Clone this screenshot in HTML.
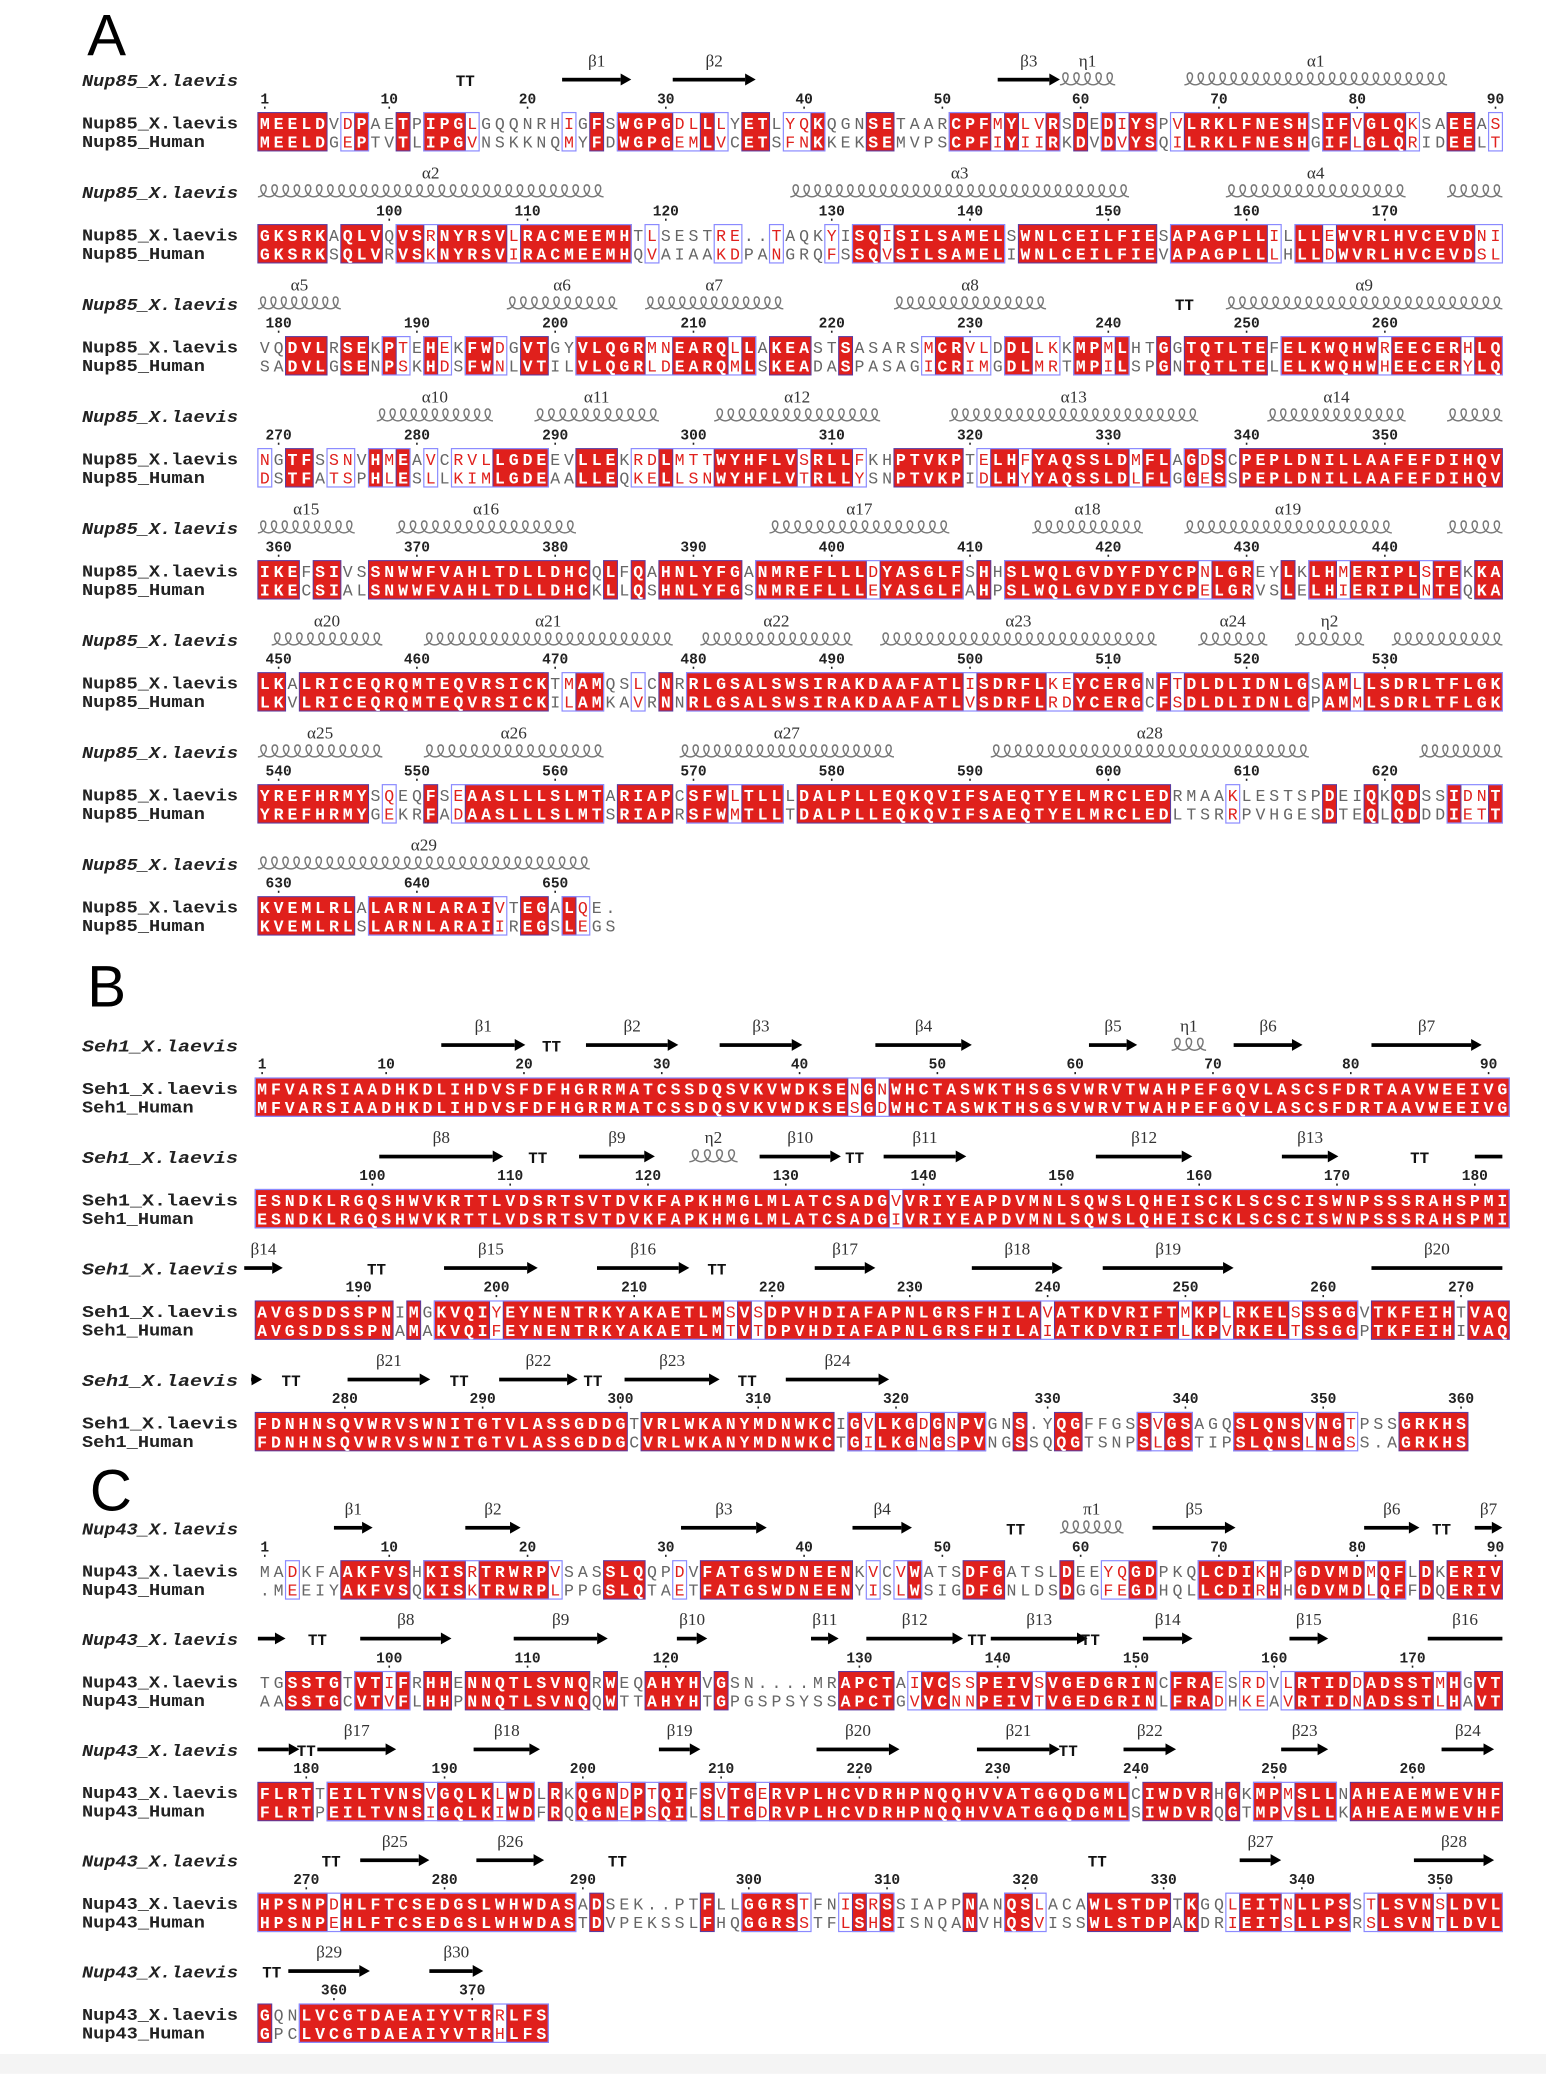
<!DOCTYPE html>
<html><head><meta charset="utf-8">
<style>
html,body{margin:0;padding:0;background:#fff;}
svg{display:block;}
</style></head>
<body>
<svg id="fig" xmlns="http://www.w3.org/2000/svg" width="1546" height="2074" viewBox="0 0 1169 1568">
<rect x="0" y="0" width="1169" height="1568" fill="#fff"/>
<rect x="0" y="1553" width="1169" height="15" fill="#f4f4f4"/>
<text x="66" y="42" font-family="Liberation Sans, sans-serif" font-size="44">A</text>
<text x="66" y="761" font-family="Liberation Sans, sans-serif" font-size="44">B</text>
<text x="68" y="1142" font-family="Liberation Sans, sans-serif" font-size="44">C</text>
</svg>
<script>
// ---------- data ----------
const rowsA_laevis = [
"MEELDVDPAETPIPGLGQQNRHIGFSWGPGDLLLYETLYQKQGNSETAARCPFMYLVRSDEDIYSPVLRKLFNESHSIFVGLQKSAEEAS",
"GKSRKAQLVQVSRNYRSVLRACMEEMHTLSESTRE..TAQKYISQISILSAMELSWNLCEILFIESAPAGPLLILLLEWVRLHVCEVDNI",
"VQDVLRSEKPTEHEKFWDGVTGYVLQGRMNEARQLLAKEASTSASARSMCRVLDDLLKKMPMLHTGGTQTLTEFELKWQHWREECERHLQ",
"NGTFSSNVHMEAVCRVLLGDEEVLLEKRDLMTTWYHFLVSRLLFKHPTVKPTELHFYAQSSLDMFLAGDSCPEPLDNILLAAFEFDIHQV",
"IKEFSIVSSNWWFVAHLTDLLDHCQLFQAHNLYFGANMREFLLLDYASGLFSHHSLWQLGVDYFDYCPNLGREYLKLHMERIPLSTEKKA",
"LKALRICEQRQMTEQVRSICKTMAMQSLCNRRLGSALSWSIRAKDAAFATLISDRFLKEYCERGNFTDLDLIDNLGSAMLLSDRLTFLGK",
"YREFHRMYSQEQFSEAASLLLSLMTARIAPCSFWLTLLLDALPLLEQKQVIFSAEQTYELMRCLEDRMAAKLESTSPDEIQKQDSSIDNT",
"KVEMLRLALARNLARAIVTEGALQE."];
const rowsA_human = [
"MEELDGEPTVTLIPGVNSKKNQMYFDWGPGEMLVCETSFNKKEKSEMVPSCPFIYIIRKDVDVYSQILRKLFNESHGIFLGLQRIDEELT",
"GKSRKSQLVRVSKNYRSVIRACMEEMHQVAIAAKDPANGRQFSSQVSILSAMELIWNLCEILFIEVAPAGPLLLHLLDWVRLHVCEVDSL",
"SADVLGSENPSKHDSFWNLVTILVLQGRLDEARQMLSKEADASPASAGICRIMGDLMRTMPILSPGNTQTLTELELKWQHWHEECERYLQ",
"DSTFATSPHLESLLKIMLGDEAALLEQKELLSNWYHFLVTRLLYSNPTVKPIDLHYYAQSSLDLFLGGESSPEPLDNILLAAFEFDIHQV",
"IKECSIALSNWWFVAHLTDLLDHCKLLQSHNLYFGSNMREFLLLEYASGLFAHPSLWQLGVDYFDYCPELGRVSLELHIERIPLNTEQKA",
"LKVLRICEQRQMTEQVRSICKILAMKAVRNNRLGSALSWSIRAKDAAFATLVSDRFLRDYCERGCFSDLDLIDNLGPAMMLSDRLTFLGK",
"YREFHRMYGEKRFADAASLLLSLMTSRIAPRSFWMTLLTDALPLLEQKQVIFSAEQTYELMRCLEDLTSRRPVHGESDTEQLQDDDIETT",
"KVEMLRLSLARNLARAIIREGSLEGS"];
const rowsB_laevis = [
"MFVARSIAADHKDLIHDVSFDFHGRRMATCSSDQSVKVWDKSENGNWHCTASWKTHSGSVWRVTWAHPEFGQVLASCSFDRTAAVWEEIVG",
"ESNDKLRGQSHWVKRTTLVDSRTSVTDVKFAPKHMGLMLATCSADGVVRIYEAPDVMNLSQWSLQHEISCKLSCSCISWNPSSSRAHSPMI",
"AVGSDDSSPNIMGKVQIYEYNENTRKYAKAETLMSVSDPVHDIAFAPNLGRSFHILAVATKDVRIFTMKPLRKELSSSGGVTKFEIHTVAQ",
"FDNHNSQVWRVSWNITGTVLASSGDDGTVRLWKANYMDNWKCIGVLKGDGNPVGNS.YQGFFGSSVGSAGQSLQNSVNGTPSSGRKHS"];
const rowsB_human = [
"MFVARSIAADHKDLIHDVSFDFHGRRMATCSSDQSVKVWDKSESGDWHCTASWKTHSGSVWRVTWAHPEFGQVLASCSFDRTAAVWEEIVG",
"ESNDKLRGQSHWVKRTTLVDSRTSVTDVKFAPKHMGLMLATCSADGIVRIYEAPDVMNLSQWSLQHEISCKLSCSCISWNPSSSRAHSPMI",
"AVGSDDSSPNAMAKVQIFEYNENTRKYAKAETLMTVTDPVHDIAFAPNLGRSFHILAIATKDVRIFTLKPVRKELTSSGGPTKFEIHIVAQ",
"FDNHNSQVWRVSWNITGTVLASSGDDGCVRLWKANYMDNWKCTGILKGNGSPVNGSSQQGTSNPSLGSTIPSLQNSLNGSS.AGRKHS"];
const rowsC_laevis = [
"MADKFAAKFVSHKISRTRWRPVSASSLQQPDVFATGSWDNEENKVCVWATSDFGATSLDEEYQGDPKQLCDIKHPGDVMDMQFLDKERIV",
"TGSSTGTVTIFRHHENNQTLSVNQRWEQAHYHVGSN....MRAPCTAIVCSSPEIVSVGEDGRINCFRAESRDVLRTIDDADSSTMHGVT",
"FLRTTEILTVNSVGQLKLWDLRKQGNDPTQIFSVTGERVPLHCVDRHPNQQHVVATGGQDGMLCIWDVRHGKMPMSLLNAHEAEMWEVHF",
"HPSNPDHLFTCSEDGSLWHWDASADSEK..PTFLLGGRSTFNISRSSIAPPNANQSLACAWLSTDPTKGQLEITNLLPSSTLSVNSLDVL",
"GQNLVCGTDAEAIYVTRRLFS"];
const rowsC_human = [
".MEEIYAKFVSQKISKTRWRPLPPGSLQTAETFATGSWDNEENYISLWSIGDFGNLDSDGGFEGDHQLLCDIRHHGDVMDLQFFDQERIV",
"AASSTGCVTVFLHHPNNQTLSVNQQWTTAHYHTGPGSPSYSSAPCTGVVCNNPEIVTVGEDGRINLFRADHKEAVRTIDNADSSTLHAVT",
"FLRTPEILTVNSIGQLKIWDFRQQGNEPSQILSLTGDRVPLHCVDRHPNQQHVVATGGQDGMLSIWDVRQGTMPVSLLKAHEAEMWEVHF",
"HPSNPEHLFTCSEDGSLWHWDASTDVPEKSSLFHQGGRSSTFLSHSISNQANVHQSVISSWLSTDPAKDRIEITSLLPSRSLSVNTLDVL",
"GPCLVCGTDAEAIYVTRHLFS"];
// secondary structure: [type, startCol, endCol, label]  a=helix, b=strand, t=turn, l=line(no head)
const ssA = [
[['t',15,15,''],['b',22,27,'β1'],['b',30,36,'β2'],['b',53.5,58,'β3'],['a',58,62,'η1'],['a',67,86,'α1']],
[['a',0,25,'α2'],['a',38.5,63,'α3'],['a',70,83,'α4'],['a',86,90,'']],
[['a',0,6,'α5'],['a',18,26,'α6'],['a',28,38,'α7'],['a',46,57,'α8'],['t',67,67,''],['a',70,90,'α9']],
[['a',8.6,17,'α10'],['a',20,29,'α11'],['a',33,45,'α12'],['a',50,68,'α13'],['a',73,83,'α14'],['a',86,90,'']],
[['a',0,7,'α15'],['a',10,23,'α16'],['a',37,50,'α17'],['a',56,64,'α18'],['a',67,82,'α19'],['a',86,90,'']],
[['a',1,9,'α20'],['a',12,30,'α21'],['a',32,43,'α22'],['a',45,65,'α23'],['a',68,73,'α24'],['a',75,80,'η2'],['a',82,90,'']],
[['a',0,9,'α25'],['a',12,25,'α26'],['a',30.5,46,'α27'],['a',53,76,'α28'],['a',84,90,'']],
[['a',0,24,'α29']]];
const ssB = [
[['b',13.5,19.6,'β1'],['t',21.5,21.5,''],['b',24,30.7,'β2'],['b',33.7,39.7,'β3'],['b',45,52,'β4'],['b',60.5,64,'β5'],['a',66.5,69,'η1'],['b',71,76,'β6'],['b',81,89,'β7']],
[['b',9,18,'β8'],['t',20.5,20.5,''],['b',23.5,29,'β9'],['a',31.5,35,'η2'],['b',36.6,42.5,'β10'],['t',43.5,43.5,''],['b',45.6,51.6,'β11'],['b',61,68,'β12'],['b',74.5,78.6,'β13'],['t',84.5,84.5,''],['l',88.5,90.5,'']],
[['b',-0.8,2,'β14'],['t',8.8,8.8,''],['b',13.7,20.5,'β15'],['b',24.8,31.5,'β16'],['t',33.5,33.5,''],['b',40.6,45,'β17'],['b',52,58.6,'β18'],['b',61.5,71,'β19'],['l',81,90.5,'β20']],
[['b',-0.3,0.5,''],['t',2.6,2.6,''],['b',6.7,12.7,'β21'],['t',14.8,14.8,''],['b',17.7,23.4,'β22'],['t',24.5,24.5,''],['b',26.8,33.7,'β23'],['t',35.7,35.7,''],['b',38.5,46,'β24']]];
const ssC = [
[['b',5.5,8.3,'β1'],['b',15,19,'β2'],['b',30.6,36.8,'β3'],['b',43,47.3,'β4'],['t',54.8,54.8,''],['a',58,62.6,'π1'],['b',64.7,70.7,'β5'],['b',80,84,'β6'],['t',85.6,85.6,''],['b',88,90,'β7']],
[['b',0,2,''],['t',4.3,4.3,''],['b',7.4,14,'β8'],['b',18.5,25.3,'β9'],['b',30.3,32.5,'β10'],['b',40,42,'β11'],['b',44,51,'β12'],['t',52,52,''],['b',53,60,'β13'],['t',60.2,60.2,''],['b',64,67.6,'β14'],['b',74.6,77.4,'β15'],['l',84.6,90,'β16']],
[['b',0,3,''],['t',3.5,3.5,''],['b',4.3,10,'β17'],['b',15.6,20.4,'β18'],['b',29,32,'β19'],['b',40.4,46.4,'β20'],['b',52,58,'β21'],['t',58.6,58.6,''],['b',62.6,66.4,'β22'],['b',74,77.4,'β23'],['b',85.6,89.4,'β24']],
[['t',5.3,5.3,''],['b',7.4,12.4,'β25'],['b',15.8,20.7,'β26'],['t',26,26,''],['t',60.7,60.7,''],['b',71,74,'β27'],['b',83.6,89.4,'β28']],
[['t',1,1,''],['b',2.2,8.1,'β29'],['b',12.4,16.3,'β30']]];
const simGroups = ['ILVM','DENQ','KRH','STN','FYWH'];

// ---------- rendering ----------
const NS = 'http://www.w3.org/2000/svg';
const svg = document.getElementById('fig');
const MONO = '"Liberation Mono", monospace';
function mk(tag, attrs, parent){
  const e = document.createElementNS(NS, tag);
  for (const k in attrs) e.setAttribute(k, attrs[k]);
  (parent||svg).appendChild(e);
  return e;
}
function isSim(a,b){
  if (a==='.'||b==='.') return false;
  return simGroups.some(g => g.includes(a) && g.includes(b));
}
function drawBlock(key, names, ssName, L, H, SS, y0, dy, x0, cw){
  let count = 0;
  for (let r=0; r<L.length; r++){
    const y1 = y0 + r*dy, y2 = y1 + 14;
    const g = mk('g', {});
    
    
    const colX = c => x0 + c*cw;
    const t0 = mk('text', {x:62, y:y1-28, 'font-family':MONO, 'font-size':12.5, 'font-weight':'bold', 'font-style':'italic', fill:'#222', textLength:118, lengthAdjust:'spacingAndGlyphs'}, g);
    t0.textContent = ssName;
    
    
    const t1 = mk('text', {x:62, y:y1+4, 'font-family':MONO, 'font-size':12.5, 'font-weight':'bold', fill:'#222', textLength:118, lengthAdjust:'spacingAndGlyphs'}, g);
    t1.textContent = names[0];
    
    
    const t2 = mk('text', {x:62, y:y2+4, 'font-family':MONO, 'font-size':12.5, 'font-weight':'bold', fill:'#222', textLength:names[1].length*8.45, lengthAdjust:'spacingAndGlyphs'}, g);
    t2.textContent = names[1];
    
    
    const a = L[r], b = H[r], n = Math.max(a.length, b.length);
    const cls = [];
    for (let c=0;c<n;c++){
      const ca=a[c]||'.', cb=b[c]||'.';
      cls.push(ca===cb && ca!=='.' ? 'id' : (isSim(ca,cb)?'sim':'no'));
    }
    const top = y1-8, bot = y2+7;
    for (let c=0;c<n;){
      if (cls[c]!=='id'){c++;continue;}
      let e=c; while(e<n && cls[e]==='id') e++;
      const rr = mk('rect', {x:colX(c), y:top, width:(e-c)*cw, height:bot-top, fill:'#e0201c', stroke:'#5a3aa0', 'stroke-width':0.8}, g);
      
      
      c=e;
    }
    for (let c=0;c<n;){
      if (cls[c]==='no'){c++;continue;}
      let e=c; while(e<n && cls[e]!=='no') e++;
      if (cls.slice(c,e).includes('sim')){
        const fr = mk('rect', {x:colX(c), y:top, width:(e-c)*cw, height:bot-top, fill:'none', stroke:'#8a8aff', 'stroke-width':0.9}, g);
        
        
      }
      c=e;
    }
    for (let c=0;c<n;c++){
      const col = cls[c]==='id' ? '#fff' : (cls[c]==='sim' ? '#e0201c' : '#666');
      const wt = cls[c]==='id' ? 'bold' : 'normal';
      [[a[c],y1],[b[c],y2]].forEach(([ch,yy])=>{
        if (!ch) return;
        const tx = mk('text', {x:colX(c)+cw/2, y:yy+4.5, 'text-anchor':'middle', 'font-family':MONO, 'font-size':12.5, 'font-weight':wt, fill:col}, g);
        tx.textContent = ch;
      });
    }
    for (let c=0;c<a.length;c++){
      if (a[c]==='.') continue;
      count++;
      if (count===1 || count%10===0){
        const nx = colX(c)+cw/2;
        const nt = mk('text', {x:nx, y:y1-15, 'text-anchor':'middle', 'font-family':MONO, 'font-size':11, 'font-weight':'bold', fill:'#222'}, g);
        nt.textContent = String(count);
        
        
        mk('rect', {x:nx-0.6, y:y1-12.5, width:1.2, height:1.6, fill:'#222'}, g);
      }
    }
    const ys = y1-33;
    (SS[r]||[]).forEach(el=>{
      const [tp,s,e,lab] = el;
      const xs = colX(s), xe = colX(e);
      if (tp==='a'){
        const p = 8.3, k = Math.max(1, Math.round((xe-xs)/p)), pp=(xe-xs)/k;
        let d = 'M'+xs+' '+(ys+4);
        for (let i=0;i<k;i++){
          const x = xs+i*pp;
          d += ' C'+(x+pp*0.75)+' '+(ys+4)+' '+(x+pp*0.95)+' '+(ys-5)+' '+(x+pp*0.5)+' '+(ys-5);
          d += ' C'+(x+pp*0.05)+' '+(ys-5)+' '+(x+pp*0.25)+' '+(ys+4)+' '+(x+pp)+' '+(ys+4);
        }
        const h = mk('path', {d:d, fill:'none', stroke:'#777', 'stroke-width':1.1}, g);
        
        
      } else if (tp==='b' || tp==='l'){
        const head = tp==='b' ? 8 : 0;
        const ln = mk('rect', {x:xs, y:ys-1.3, width:Math.max(1,xe-xs-head), height:2.8, fill:'#000'}, g);
        
        
        if (head) mk('path', {d:'M'+(xe-head)+' '+(ys-4.5)+' L'+xe+' '+ys+' L'+(xe-head)+' '+(ys+4.5)+' Z', fill:'#000'}, g);
      } else if (tp==='t'){
        const tt = mk('text', {x:xs, y:ys+5, 'text-anchor':'middle', 'font-family':MONO, 'font-size':12, 'font-weight':'bold', fill:'#111'}, g);
        tt.textContent = 'TT';
        
        
      }
      if (lab){
        const lt = mk('text', {x:(xs+xe)/2, y:ys-10, 'text-anchor':'middle', 'font-family':'"Liberation Serif", serif', 'font-size':13, fill:'#333'}, g);
        lt.textContent = lab;
        
        
      }
    });
  }
}
drawBlock('nup85', ['Nup85_X.laevis','Nup85_Human'], 'Nup85_X.laevis', rowsA_laevis, rowsA_human, ssA, 93, 84.7, 195, 10.456);
drawBlock('seh1', ['Seh1_X.laevis','Seh1_Human'], 'Seh1_X.laevis', rowsB_laevis, rowsB_human, ssB, 823, 84.3, 193, 10.42);
drawBlock('nup43', ['Nup43_X.laevis','Nup43_Human'], 'Nup43_X.laevis', rowsC_laevis, rowsC_human, ssC, 1188, 83.8, 195, 10.456);
</script>
</body></html>
